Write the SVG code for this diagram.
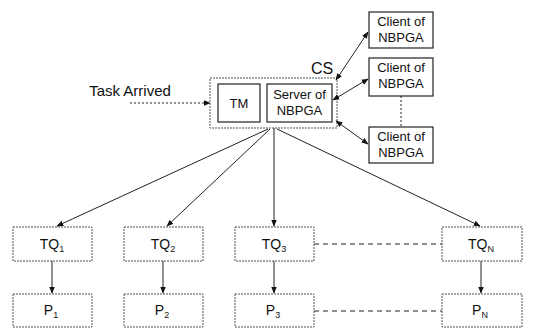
<svg xmlns="http://www.w3.org/2000/svg" width="547" height="328" viewBox="0 0 547 328">
<defs>
<marker id="ah" viewBox="0 0 10 10" refX="9" refY="5" markerWidth="7" markerHeight="7" orient="auto-start-reverse" markerUnits="userSpaceOnUse">
<path d="M0,1 L10,5 L0,9 Z" fill="#111"/>
</marker>
</defs>
<style>
text{font-family:"Liberation Sans",Arial,sans-serif;fill:#111;text-anchor:middle}
.solid{fill:#fff;stroke:#222;stroke-width:1.2}
.dot{fill:#fff;stroke:#555;stroke-width:1;stroke-dasharray:2 1}
.c{stroke:#222;stroke-width:1;fill:none}
.dash{stroke:#222;stroke-width:1;fill:none;stroke-dasharray:5 4}
.dotl{stroke:#222;stroke-width:1;fill:none;stroke-dasharray:2 2}
.n{font-size:14px}
.s{font-size:13px}
.sub{font-size:9px}
</style>
<g id="cs">
<rect class="dot" x="210" y="78" width="127" height="50"/>
<text x="322" y="74" style="font-size:16px">CS</text>
</g>
<g id="task-arrived">
<text x="130" y="96" style="font-size:15px">Task Arrived</text>
</g>
<g id="tm">
<rect class="solid" x="218" y="84" width="42" height="38"/>
<text x="239" y="108" class="s">TM</text>
</g>
<g id="server">
<rect class="solid" x="267" y="84" width="65" height="38"/>
<text x="299.5" y="99" class="s">Server of</text>
<text x="299.5" y="115" class="s">NBPGA</text>
</g>
<g id="client1">
<rect class="solid" x="369" y="12" width="64" height="36"/>
<text x="401" y="26" class="s">Client of</text>
<text x="401" y="42" class="s">NBPGA</text>
</g>
<g id="client2">
<rect class="solid" x="369" y="58" width="64" height="38"/>
<text x="401" y="72" class="s">Client of</text>
<text x="401" y="88" class="s">NBPGA</text>
</g>
<g id="client3">
<rect class="solid" x="369" y="127" width="64" height="36"/>
<text x="401" y="141" class="s">Client of</text>
<text x="401" y="157" class="s">NBPGA</text>
</g>
<g id="tq1">
<rect class="dot" x="13" y="227" width="79" height="34"/>
<text x="52" y="249" class="n">TQ<tspan class="sub" dy="3">1</tspan></text>
</g>
<g id="tq2">
<rect class="dot" x="124" y="227" width="79" height="34"/>
<text x="163" y="249" class="n">TQ<tspan class="sub" dy="3">2</tspan></text>
</g>
<g id="tq3">
<rect class="dot" x="235" y="227" width="79" height="34"/>
<text x="274" y="249" class="n">TQ<tspan class="sub" dy="3">3</tspan></text>
</g>
<g id="tqn">
<rect class="dot" x="442" y="227" width="80" height="34"/>
<text x="481" y="249" class="n">TQ<tspan class="sub" dy="3">N</tspan></text>
</g>
<g id="p1">
<rect class="dot" x="13" y="294" width="79" height="33"/>
<text x="51" y="315" class="n">P<tspan class="sub" dy="3">1</tspan></text>
</g>
<g id="p2">
<rect class="dot" x="124" y="294" width="79" height="33"/>
<text x="162" y="315" class="n">P<tspan class="sub" dy="3">2</tspan></text>
</g>
<g id="p3">
<rect class="dot" x="235" y="294" width="79" height="33"/>
<text x="273" y="315" class="n">P<tspan class="sub" dy="3">3</tspan></text>
</g>
<g id="pn">
<rect class="dot" x="442" y="294" width="80" height="33"/>
<text x="480" y="315" class="n">P<tspan class="sub" dy="3">N</tspan></text>
</g>
<g id="connectors">
<line class="dotl" x1="130" y1="103" x2="210" y2="103" marker-end="url(#ah)"/>
<line class="c" x1="336" y1="80" x2="368" y2="32" marker-start="url(#ah)" marker-end="url(#ah)"/>
<line class="c" x1="333" y1="100" x2="368" y2="79" marker-start="url(#ah)" marker-end="url(#ah)"/>
<line class="c" x1="336" y1="121" x2="368" y2="144" marker-start="url(#ah)" marker-end="url(#ah)"/>
<line class="dotl" x1="401" y1="96" x2="401" y2="127"/>
<line class="c" x1="268" y1="129" x2="57" y2="226" marker-end="url(#ah)"/>
<line class="c" x1="270" y1="129" x2="167" y2="226" marker-end="url(#ah)"/>
<line class="c" x1="274" y1="128" x2="274" y2="226" marker-end="url(#ah)"/>
<line class="c" x1="277" y1="129" x2="480" y2="226" marker-end="url(#ah)"/>
<line class="c" x1="52" y1="261" x2="52" y2="293" marker-end="url(#ah)"/>
<line class="c" x1="163" y1="261" x2="163" y2="293" marker-end="url(#ah)"/>
<line class="c" x1="274" y1="261" x2="274" y2="293" marker-end="url(#ah)"/>
<line class="c" x1="481" y1="261" x2="481" y2="293" marker-end="url(#ah)"/>
<line class="dash" x1="314" y1="244" x2="442" y2="244"/>
<line class="dash" x1="314" y1="311" x2="442" y2="311"/>
</g>
</svg>
